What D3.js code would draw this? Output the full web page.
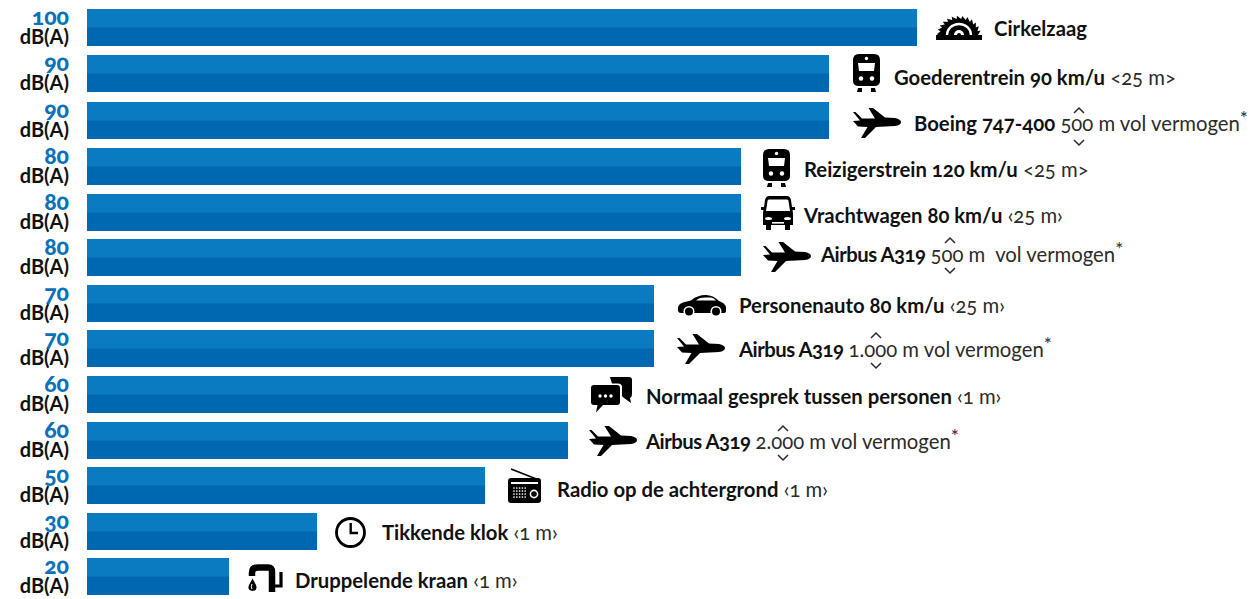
<!DOCTYPE html>
<html><head><meta charset="utf-8">
<script src="https://cdn.jsdelivr.net/npm/d3@7"></script>
<style>
html,body{margin:0;padding:0;background:#fff}
svg{display:block}
text{font-family:Lato,"Noto Sans",sans-serif;font-variant-numeric:oldstyle-nums;white-space:pre}
</style></head><body><svg id="c" width="1251" height="599"></svg>
<script>
// ---- data ----
const sources = ["Cirkelzaag","Goederentrein 90 km/u","Boeing 747-400","Reizigerstrein 120 km/u","Vrachtwagen 80 km/u","Airbus A319","Personenauto 80 km/u","Airbus A319","Normaal gesprek tussen personen","Airbus A319","Radio op de achtergrond","Tikkende klok","Druppelende kraan"];
const decibels = [100,90,90,80,80,80,70,70,60,60,50,30,20];
const distances = [""," <25 m>"," 500 m vol vermogen"," <25 m>"," ‹25 m›"," 500 m  vol vermogen"," ‹25 m›"," 1.000 m vol vermogen"," ‹1 m›"," 2.000 m vol vermogen"," ‹1 m›"," ‹1 m›"," ‹1 m›"];
const footnoted = [0,0,1,0,0,1,0,1,0,1,0,0,0];
const iconNames = ["saw","train","plane","train","truck","plane","car","plane","chat","plane","radio","clock","tap"];
const unit = "dB(A)";
const scaleDomain = [20,30,50,60,70,80,90,100];

// ---- layout (not data) ----
const scaleRange = [229,317,485,568,654,741,829,917];
const rowTops = [9,55,102,148,194,239,285,330,376,422,467,513,558];
const barHeight = 37;
const iconOrigin = [[936,17],[853,54],[853,107],[763,149],[761,196],[763,241],[678,295],[677,333],[591,377],[589,425],[508,468],[335,517],[248,565]];
const textStart = [994,894,914,804,804,821,739,739,646,646,557,382,295];
const textBase = [36,85,131,177,223,262,313,357,404,449,497,540,588];
const chevrons = {2:[1079,110,143],5:[950,240,271],7:[876,335,366],9:[783,428,458]};
const barTop="#0a7bc0", barBottom="#0068b1", labelBlue="#0b71b8", ink="#111", soft="#2b2b2b";

const svg = d3.select("#c");
const x = d3.scaleLinear().domain(scaleDomain).range(scaleRange);
const y = d3.scaleLinear().domain(d3.range(sources.length)).range(rowTops);
const x0 = 87;

const rows = svg.selectAll("g.row").data(d3.range(sources.length)).join("g").attr("class","row");
rows.append("rect").attr("x",x0).attr("y",i=>y(i)).attr("width",i=>x(decibels[i])-x0).attr("height",barHeight).attr("fill",barBottom);
rows.append("rect").attr("x",x0).attr("y",i=>y(i)).attr("width",i=>x(decibels[i])-x0).attr("height",barHeight/2).attr("fill",barTop);

rows.append("text").attr("x",69).attr("y",i=>y(i)+15.5).attr("text-anchor","end").attr("font-weight",900).attr("font-size",23).attr("fill",labelBlue).text(i=>decibels[i]);
rows.append("text").attr("x",69).attr("y",i=>y(i)+35).attr("text-anchor","end").attr("font-weight",700).attr("font-size",20).attr("fill",ink).text(unit);

const lab = rows.append("text").attr("x",i=>textStart[i]).attr("y",i=>textBase[i]).attr("font-size",20.3);
lab.append("tspan").attr("font-weight",700).attr("fill",ink).attr("letter-spacing",i=>sources[i].startsWith("Airbus")?-0.5:0).text(i=>sources[i]);
lab.append("tspan").attr("font-weight",400).attr("fill",soft).text(i=>distances[i]);
lab.filter(i=>footnoted[i]).append("tspan").attr("dy",-6).attr("font-size",19).attr("fill",soft).text("*");

const chev = svg.append("g").attr("fill","none").attr("stroke",soft).attr("stroke-width",1.5);
Object.values(chevrons).forEach(c=>{
  chev.append("path").attr("d",`M${c[0]-5},${c[1]+3}L${c[0]},${c[1]-2}L${c[0]+5},${c[1]+3}`);
  chev.append("path").attr("d",`M${c[0]-5},${c[2]-3}L${c[0]},${c[2]+2}L${c[0]+5},${c[2]-3}`);
});

// ---- icons ----
const icons = {
 saw(g){
  const p=d3.path(), cx=23, cy=18, n=13;
  p.moveTo(cx-21,cy);
  for(let k=0;k<n;k++){
    const a=Math.PI-(k+0.1)/n*Math.PI, b=Math.PI-(k+1)/n*Math.PI;
    p.lineTo(cx+23*Math.cos(a)*0.96,cy-19*Math.sin(a)-0.3);
    p.lineTo(cx+19*Math.cos(b),cy-16*Math.sin(b));
  }
  p.closePath();
  g.append("path").attr("d",p.toString()).attr("fill","#000");
  g.append("rect").attr("x",0).attr("y",18).attr("width",46).attr("height",5).attr("fill","#000");
  g.append("path").attr("d","M11,18A12,11 0 0 1 35,18").attr("fill","none").attr("stroke","#fff").attr("stroke-width",2.4);
  g.append("path").attr("d","M18,18A5,5 0 0 1 28,18Z").attr("fill","#fff");
  g.append("path").attr("d","M21,18A2,2 0 0 1 25,18Z").attr("fill","#000");
 },
 train(g){
  g.append("path").attr("d","M6,0H21Q27,0 27,6V27Q27,32 21,32H6Q0,32 0,27V6Q0,0 6,0Z").attr("fill","#000");
  g.append("path").attr("d","M5,9H22L21,17H6Z").attr("fill","#fff");
  [[8,24.5,2.2],[19,24.5,2.2],[13.5,4.5,1.7]].forEach(c=>g.append("circle").attr("cx",c[0]).attr("cy",c[1]).attr("r",c[2]).attr("fill","#fff"));
  g.append("path").attr("d","M5,34H9L9,38H4ZM18,34H22L23,38H18Z").attr("fill","#000");
 },
 plane(g){
  g.append("path").attr("d","M0,5H2.5L9,11.5L22,11.5L15.5,1H20L32,10.5L42,11Q48,12.5 48,15Q48,18 42,19L23,20L12,31H8L14.5,20L5,19.5L0,14L7,13.5Z").attr("fill","#000");
 },
 truck(g){
  g.append("path").attr("d","M8,0H26Q29,0 30,4L31,11H34V14H31.5L32,17V29H29V34H24V29H10V34H5V29H2V17L2.500,14H0V11H3L4,4Q5,0 8,0Z").attr("fill","#000");
  g.append("path").attr("d","M8,3.500H26Q27.500,3.500 27.500,5L29,15H5L6.500,5Q6.500,3.500 8,3.500Z").attr("fill","#fff");
  g.append("ellipse").attr("cx",7.5).attr("cy",22.5).attr("rx",3.5).attr("ry",1.6).attr("fill","#fff");
  g.append("ellipse").attr("cx",26.5).attr("cy",22.5).attr("rx",3.5).attr("ry",1.6).attr("fill","#fff");
  g.append("rect").attr("x",11).attr("y",26).attr("width",12).attr("height",1.6).attr("fill","#fff");
 },
 car(g){
  g.append("path").attr("d","M0,13Q0,9 5,7.500L13,5.500Q19,0 28,0Q35,0 41,6Q47,8 48,12V16Q48,18 45,18H3Q0,18 0,15Z").attr("fill","#000");
  g.append("path").attr("d","M18,5.500Q21,2.500 27,2.500L33,2.500Q36,3 38,5.500Z").attr("fill","#fff");
  [11,38].forEach(cx=>{
    g.append("circle").attr("cx",cx).attr("cy",16.500).attr("r",5.5).attr("fill","#fff");
    g.append("circle").attr("cx",cx).attr("cy",16.500).attr("r",4).attr("fill","#000");
  });
 },
 chat(g){
  g.append("path").attr("d","M19,0H38Q41,0 41,3V17Q41,20 39,21L40,26L33,21L22,10Z").attr("fill","#000");
  g.append("path").attr("d","M3,6.500H27Q31,6.500 31,10V25Q31,29.500 27,29.500H13L4,37.500L6,29.500H3Q-1,29.500 -1,26V10Q-1,6.500 3,6.500Z").attr("fill","#fff");
  g.append("path").attr("d","M3,8H26Q29,8 29,11V25Q29,28 26,28H12L5,35.500L6.500,28H3Q0,28 0,25V11Q0,8 3,8Z").attr("fill","#000");
  [9,14.5,20].forEach(cx=>g.append("circle").attr("cx",cx).attr("cy",19).attr("r",1.7).attr("fill","#fff"));
 },
 radio(g){
  g.append("path").attr("d","M3,1L31,12").attr("stroke","#000").attr("stroke-width",1.6);
  g.append("rect").attr("x",0).attr("y",10).attr("width",33).attr("height",25).attr("rx",3).attr("fill","#000");
  g.append("rect").attr("x",3).attr("y",14).attr("width",27).attr("height",2).attr("fill","#fff");
  for(let r=0;r<4;r++)for(let c=0;c<5;c++)
    g.append("circle").attr("cx",6+c*2.8).attr("cy",20+r*3).attr("r",.85).attr("fill","#fff");
  g.append("circle").attr("cx",26).attr("cy",26).attr("r",3.6).attr("fill","none").attr("stroke","#fff").attr("stroke-width",1.6);
 },
 clock(g){
  g.append("circle").attr("cx",15.5).attr("cy",15.5).attr("r",14).attr("fill","none").attr("stroke","#000").attr("stroke-width",2.8);
  g.append("path").attr("d","M15.7,6V16H23").attr("fill","none").attr("stroke","#000").attr("stroke-width",2.4);
 },
 tap(g){
  g.append("path").attr("d","M4,11V8Q4,2.500 10,2.500H20Q24,2.500 24,7V27").attr("fill","none").attr("stroke","#000").attr("stroke-width",6.5);
  g.append("path").attr("d","M24,21H33V7").attr("fill","none").attr("stroke","#000").attr("stroke-width",3.2);
  g.append("path").attr("d","M4.500,13.500L8,20Q10,25.500 4.500,26Q-1,25.500 1,20Z").attr("fill","#000");
  g.append("path").attr("d","M4,19Q2.500,22 4,24").attr("fill","none").attr("stroke","#fff").attr("stroke-width",1);
 }
};
const ig = svg.append("g");
iconNames.forEach((n,i)=>icons[n](ig.append("g").attr("transform",`translate(${iconOrigin[i]})`)));
</script></body></html>
